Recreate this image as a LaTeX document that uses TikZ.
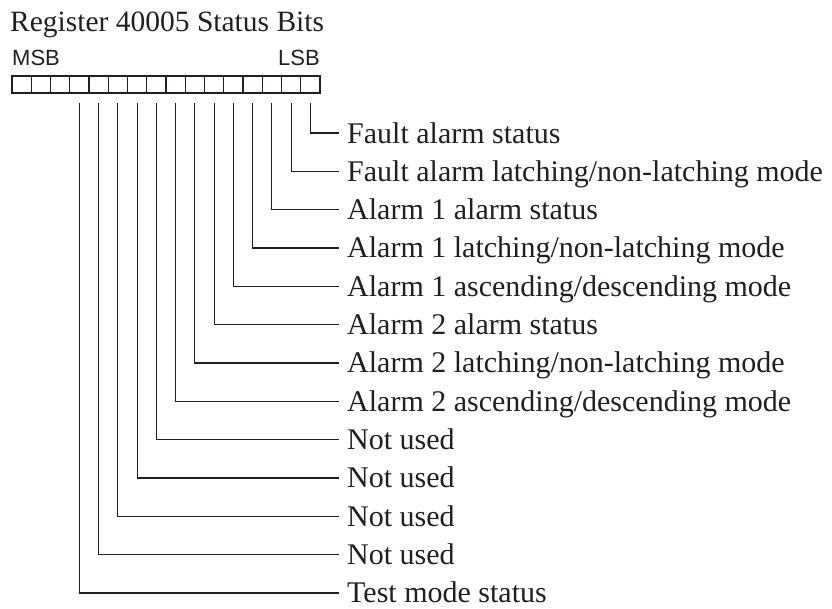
\documentclass[tikz,border=0pt]{standalone}
\usepackage{fontspec}
\setmainfont{Liberation Serif}
\newfontfamily\hsans{Liberation Sans}
\definecolor{ink}{HTML}{231F20}
\begin{document}
\begin{tikzpicture}[x=1pt,y=-1pt,
  cell/.style={draw=ink, line width=1.1pt, minimum width=19.25pt, minimum height=17pt, inner sep=0pt, outer sep=0pt},
  lbl/.style={anchor=west, inner xsep=8pt, inner ysep=0pt, text height=20pt, text depth=0pt, font=\fontsize{30}{36}\selectfont, text=ink},
  ttl/.style={inner sep=0pt, font=\fontsize{29.5}{34}\selectfont, text=ink},
  endlbl/.style={inner sep=0pt, font=\hsans\fontsize{22}{26}\selectfont, text=ink},
  wire/.style={draw=ink, line width=1.1pt}]
\useasboundingbox (0,0) rectangle (832,608);
\node[ttl, anchor=base west] (title) at (10,31) {Register 40005 Status Bits};
\node[endlbl, anchor=base west] (msb) at (12,65) {MSB};
\node[endlbl, anchor=base east] (lsb) at (320,65) {LSB};
\foreach \k in {0,...,15}
  \node[cell] (c\k) at ({12+19.25*(\k+0.5)},84.5) {};
\foreach \r/\t in {0/{Fault alarm status},
                   1/{Fault alarm latching/non-latching mode},
                   2/{Alarm 1 alarm status},
                   3/{Alarm 1 latching/non-latching mode},
                   4/{Alarm 1 ascending/descending mode},
                   5/{Alarm 2 alarm status},
                   6/{Alarm 2 latching/non-latching mode},
                   7/{Alarm 2 ascending/descending mode},
                   8/{Not used},
                   9/{Not used},
                   10/{Not used},
                   11/{Not used},
                   12/{Test mode status}} {
  \pgfmathtruncatemacro\cc{15-\r}
  \node[lbl] (l\r) at (339,{133+38.33*\r}) {\t};
  \draw[wire] ([yshift=-10pt]c\cc.south) |- (l\r.west);
}
\end{tikzpicture}
\end{document}
